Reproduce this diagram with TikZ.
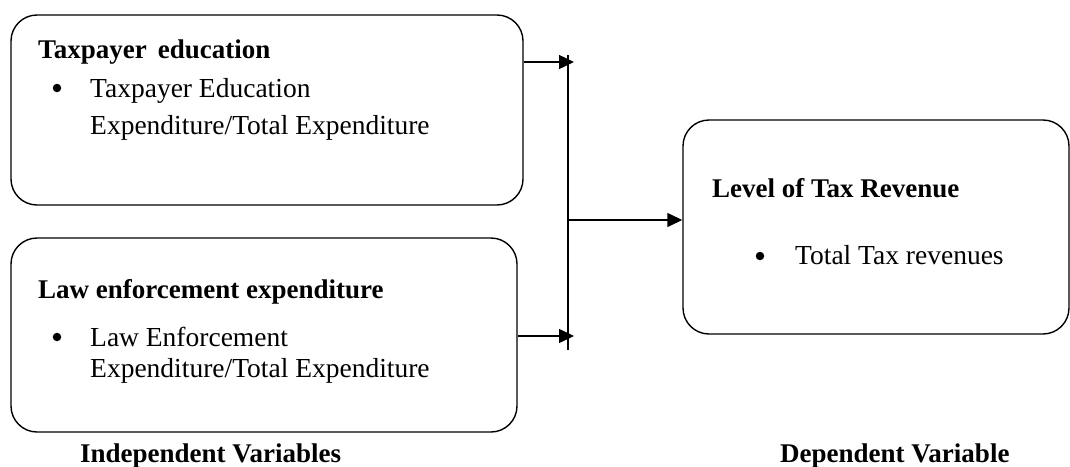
\documentclass[tikz,border=0pt]{standalone}
\usepackage{fontspec}
\setmainfont{Liberation Serif}
\usetikzlibrary{arrows.meta}
\begin{document}
\begin{tikzpicture}[x=1pt,y=-1pt,
  box/.style={draw, line width=1.4pt, rounded corners=26pt, inner sep=0pt},
  conn/.style={line width=1.4pt},
  arr/.style={conn, -{Triangle[length=15pt,width=14pt]}},
  txt/.style={anchor=base west, inner sep=0pt, font=\fontsize{27.5}{32}\selectfont},
  ttl/.style={txt, font=\fontsize{27}{32}\selectfont\bfseries},
  dot/.style={circle, fill, inner sep=0pt, minimum size=8.5pt}]
\useasboundingbox (0,0) rectangle (1070,466);
% boxes
\node[box, minimum width=512pt, minimum height=190pt] (b1) at (267,110) {};
\node[box, minimum width=506pt, minimum height=194pt] (b2) at (264,335) {};
\node[box, minimum width=386pt, minimum height=214pt] (b3) at (876,227) {};
% texts box 1
\node[ttl] (t1) at (38,58) {Taxpayer\, education};
\node[dot] (d1) at (57,88) {};
\node[txt] (l1a) at (90,97) {Taxpayer Education};
\node[txt] (l1b) at (90,134) {Expenditure/Total Expenditure};
% texts box 2
\node[ttl] (t2) at (38,298) {Law enforcement expenditure};
\node[dot] (d2) at (57,337) {};
\node[txt] (l2a) at (90,346) {Law Enforcement};
\node[txt] (l2b) at (90,377) {Expenditure/Total Expenditure};
% texts box 3
\node[ttl] (t3) at (712,197) {Level of Tax Revenue};
\node[dot] (d3) at (760,256) {};
\node[txt] (l3a) at (795,264) {Total Tax revenues};
% captions
\node[ttl] (c1) at (80,462) {Independent Variables};
\node[ttl] (c2) at (780,462) {Dependent Variable};
% connectors
\coordinate (vt) at (568,55);
\coordinate (vb) at (568,350);
\coordinate (a1) at (574,62);
\coordinate (a2) at (574,336);
\coordinate (m) at (568,220);
\draw[conn] (vt) -- (vb);
\draw[arr] (b1.east |- a1) -- (a1);
\draw[arr] (b2.east |- a2) -- (a2);
\draw[arr] (m) -- (b3.west |- m);
\end{tikzpicture}
\end{document}
